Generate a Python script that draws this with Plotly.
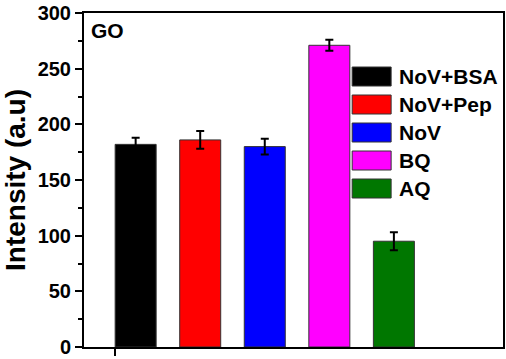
import plotly.graph_objects as go

categories = ["NoV+BSA", "NoV+Pep", "NoV", "BQ", "AQ"]
values = [182, 186, 180, 271, 95]
errors = [6, 8, 7, 5, 8]
colors = ["#000000", "#ff0000", "#0000ff", "#ff00ff", "#007700"]
y_ticks = [0, 50, 100, 150, 200, 250, 300]

positions = list(range(1, len(categories) + 1))
FONT = "Liberation Sans, Arial, sans-serif"

W, H = 506, 359
M_L, M_R, M_T, M_B = 84, 3, 13, 12
PLOT_H = H - M_T - M_B

fig = go.Figure()
fig.add_trace(go.Bar(
    x=positions, y=values, width=0.635,
    marker=dict(color=colors, line=dict(color="#333333", width=1)),
    error_y=dict(type="data", array=errors, visible=True, color="black",
                 thickness=2, width=4),
    showlegend=False,
))

# custom legend (large swatches like the reference)
shapes = []
annotations = []
for i, (name, col) in enumerate(zip(categories, colors)):
    y_px = 76.5 + 28 * i - M_T          # pixel offset from plot top
    yc = 1 - y_px / PLOT_H
    h = 19 / PLOT_H
    shapes.append(dict(type="rect", xref="paper", yref="paper",
                       x0=0.64, x1=0.733, y0=yc - h / 2, y1=yc + h / 2,
                       fillcolor=col, line=dict(color="#333333", width=1)))
    annotations.append(dict(xref="paper", yref="paper", x=0.748, y=yc,
                            text=f"<b>{name}</b>", showarrow=False,
                            xanchor="left", yanchor="middle",
                            font=dict(family=FONT, size=21, color="black")))

annotations.append(dict(xref="paper", yref="paper", x=0.013, y=0.988,
                        text="<b>GO</b>", showarrow=False,
                        xanchor="left", yanchor="top",
                        font=dict(family=FONT, size=21, color="black")))

fig.update_layout(
    width=W, height=H,
    margin=dict(l=M_L, r=M_R, t=M_T, b=M_B),
    plot_bgcolor="white", paper_bgcolor="white",
    shapes=shapes, annotations=annotations,
    font=dict(family=FONT, color="black"),
    xaxis=dict(range=[0.2, 6.69], tickvals=[0.68], ticktext=[""],
               automargin=False,
               ticks="outside", ticklen=7, tickwidth=2, tickcolor="black",
               showline=True, linecolor="black", linewidth=2, mirror=True,
               showgrid=False, zeroline=False),
    yaxis=dict(range=[0, 300], tickvals=y_ticks,
               ticktext=[f"<b>{v}</b>" for v in y_ticks],
               automargin=False, ticklabeloverflow="allow",
               ticks="outside", ticklen=7, tickwidth=2, tickcolor="black",
               minor=dict(dtick=25, ticks="outside", ticklen=4,
                          tickwidth=2, tickcolor="black", showgrid=False),
               tickfont=dict(family=FONT, size=20, color="black"),
               showline=True, linecolor="black", linewidth=2, mirror=True,
               showgrid=False, zeroline=False,
               title=dict(text="<b>Intensity (a.u)</b>", standoff=4,
                          font=dict(family=FONT, size=28, color="black"))),
)

fig.write_html("out.html", config={"displayModeBar": False},
               post_script="document.body.style.margin='0';")
